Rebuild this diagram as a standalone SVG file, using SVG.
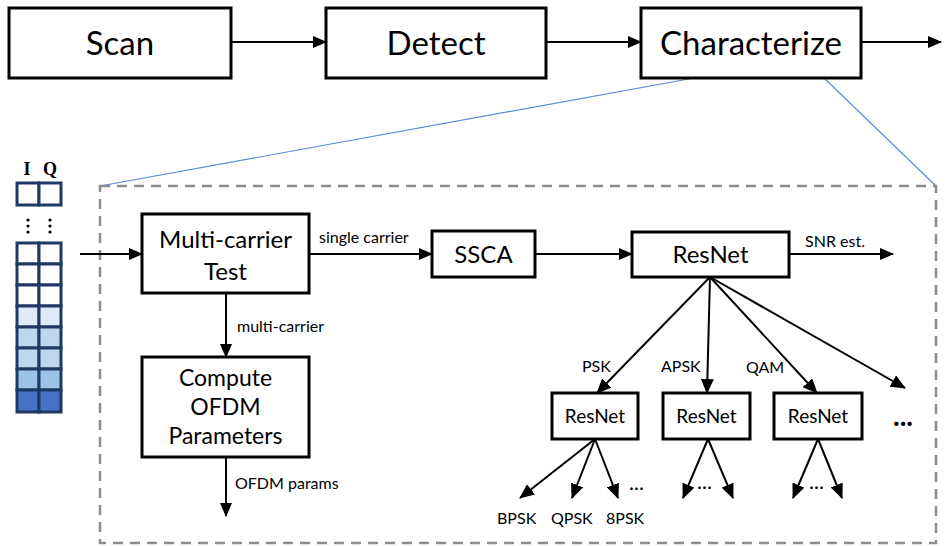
<svg xmlns="http://www.w3.org/2000/svg" width="947" height="546" viewBox="0 0 947 546">
  <defs>
    <style>
      .box { fill: #ffffff; stroke: #000000; stroke-width: 3; }
      .lbl { font-family: Lato, "Liberation Sans", sans-serif; fill: #000000; text-anchor: middle; }
      .big { font-size: 33px; }
      .mid { font-size: 24px; }
      .cmp { font-size: 23px; }
      .res { font-size: 24px; }
      .sml { font-size: 19px; }
      .note { font-family: Lato, "Liberation Sans", sans-serif; font-size: 16px; fill: #000000; }
      .edge { fill: none; stroke: #000000; stroke-width: 2; }
      .zoomline { fill: none; stroke: #5b8bd6; stroke-width: 1.2; }
      .frame { fill: none; stroke: #8c8c8c; stroke-width: 2.5; stroke-dasharray: 10 7; }
      .cell { stroke: #1f3864; stroke-width: 3; }
      .iq { font-family: "Liberation Serif", serif; font-weight: bold; font-size: 18px; fill: #000000; text-anchor: middle; }
      .dots { font-family: Lato, "Liberation Sans", sans-serif; fill: #000000; }
    </style>
    <marker id="head" viewBox="0 0 14 12" markerWidth="14" markerHeight="12" refX="13" refY="6" orient="auto" markerUnits="userSpaceOnUse">
      <path d="M0,0 L14,6 L0,12 z" fill="#000000"/>
    </marker>
    <marker id="head-lg" viewBox="0 0 15 13" markerWidth="15" markerHeight="13" refX="14" refY="6.5" orient="auto" markerUnits="userSpaceOnUse">
      <path d="M0,0 L15,6.5 L0,13 z" fill="#000000"/>
    </marker>
  </defs>

  <!-- magnification lines from Characterize to the detail frame -->
  <g id="zoom-lines">
    <line class="zoomline" x1="694" y1="78" x2="100" y2="186"/>
    <line class="zoomline" x1="824" y1="78" x2="936" y2="186"/>
  </g>

  <!-- detail frame -->
  <rect id="detail-frame" class="frame" x="100" y="186" width="836" height="357"/>

  <!-- pipeline stages -->
  <g id="scan">
    <rect class="box" x="9" y="8" width="222" height="70"/>
    <text class="lbl big" x="120" y="55">Scan</text>
  </g>
  <g id="detect">
    <rect class="box" x="326" y="8" width="220" height="70"/>
    <text class="lbl big" x="436" y="55">Detect</text>
  </g>
  <g id="characterize">
    <rect class="box" x="641" y="8" width="220" height="70"/>
    <text class="lbl big" x="751" y="55">Characterize</text>
  </g>

  <!-- IQ sample buffer -->
  <g id="iq-buffer">
    <text class="iq" x="27" y="175">I</text>
    <text class="iq" x="50" y="175">Q</text>
    <rect class="cell" fill="#ffffff" x="17" y="183" width="22" height="22"/>
    <rect class="cell" fill="#ffffff" x="39" y="183" width="22" height="22"/>
    <g fill="#000000">
      <circle cx="28" cy="220" r="1.6"/><circle cx="28" cy="226" r="1.6"/><circle cx="28" cy="232" r="1.6"/>
      <circle cx="50" cy="220" r="1.6"/><circle cx="50" cy="226" r="1.6"/><circle cx="50" cy="232" r="1.6"/>
    </g>
    <rect class="cell" fill="#ffffff" x="17" y="243" width="22" height="21"/>
    <rect class="cell" fill="#ffffff" x="39" y="243" width="22" height="21"/>
    <rect class="cell" fill="#ffffff" x="17" y="264" width="22" height="21"/>
    <rect class="cell" fill="#ffffff" x="39" y="264" width="22" height="21"/>
    <rect class="cell" fill="#ffffff" x="17" y="285" width="22" height="21"/>
    <rect class="cell" fill="#ffffff" x="39" y="285" width="22" height="21"/>
    <rect class="cell" fill="#deebf7" x="17" y="306" width="22" height="21"/>
    <rect class="cell" fill="#deebf7" x="39" y="306" width="22" height="21"/>
    <rect class="cell" fill="#bdd7ee" x="17" y="327" width="22" height="21"/>
    <rect class="cell" fill="#bdd7ee" x="39" y="327" width="22" height="21"/>
    <rect class="cell" fill="#bdd7ee" x="17" y="348" width="22" height="21"/>
    <rect class="cell" fill="#bdd7ee" x="39" y="348" width="22" height="21"/>
    <rect class="cell" fill="#9dc3e6" x="17" y="369" width="22" height="21"/>
    <rect class="cell" fill="#9dc3e6" x="39" y="369" width="22" height="21"/>
    <rect class="cell" fill="#4472c4" x="17" y="390" width="22" height="22"/>
    <rect class="cell" fill="#4472c4" x="39" y="390" width="22" height="22"/>
  </g>

  <!-- detail blocks -->
  <g id="multicarrier-test">
    <rect class="box" x="142" y="214" width="167" height="79"/>
    <text class="lbl mid" x="225.5" y="248">Multi-carrier</text>
    <text class="lbl mid" x="225.5" y="280">Test</text>
  </g>
  <g id="compute-ofdm">
    <rect class="box" x="142" y="357" width="167" height="100"/>
    <text class="lbl cmp" x="225.5" y="386">Compute</text>
    <text class="lbl cmp" x="225.5" y="415">OFDM</text>
    <text class="lbl cmp" x="225.5" y="444">Parameters</text>
  </g>
  <g id="ssca">
    <rect class="box" x="432" y="231" width="103" height="46"/>
    <text class="lbl res" x="483.5" y="263">SSCA</text>
  </g>
  <g id="resnet-main">
    <rect class="box" x="632" y="232" width="157" height="45"/>
    <text class="lbl res" x="710.5" y="263">ResNet</text>
  </g>
  <g id="resnet-psk">
    <rect class="box" x="552" y="393" width="86" height="46"/>
    <text class="lbl sml" x="595" y="423">ResNet</text>
  </g>
  <g id="resnet-apsk">
    <rect class="box" x="663" y="393" width="87" height="46"/>
    <text class="lbl sml" x="706.5" y="423">ResNet</text>
  </g>
  <g id="resnet-qam">
    <rect class="box" x="774" y="393" width="88" height="46"/>
    <text class="lbl sml" x="818" y="423">ResNet</text>
  </g>

  <!-- connectors -->
  <g id="connectors">
    <line class="edge" x1="231" y1="42" x2="326" y2="42" marker-end="url(#head)"/>
    <line class="edge" x1="546" y1="42" x2="641" y2="42" marker-end="url(#head)"/>
    <line class="edge" x1="861" y1="42" x2="941" y2="42" marker-end="url(#head)"/>

    <line class="edge" x1="80" y1="254" x2="142" y2="254" marker-end="url(#head)"/>
    <line class="edge" x1="309" y1="254" x2="432" y2="254" marker-end="url(#head)"/>
    <line class="edge" x1="535" y1="254" x2="632" y2="254" marker-end="url(#head)"/>
    <line class="edge" x1="789" y1="254" x2="893" y2="254" marker-end="url(#head)"/>

    <line class="edge" x1="226" y1="293" x2="226" y2="357" marker-end="url(#head)"/>
    <line class="edge" x1="226" y1="457" x2="226" y2="516" marker-end="url(#head)"/>

    <line class="edge" x1="710" y1="277" x2="597" y2="393" marker-end="url(#head-lg)"/>
    <line class="edge" x1="710" y1="277" x2="707" y2="393" marker-end="url(#head-lg)"/>
    <line class="edge" x1="710" y1="277" x2="817" y2="393" marker-end="url(#head-lg)"/>
    <line class="edge" x1="710" y1="277" x2="905" y2="388" marker-end="url(#head-lg)"/>

    <line class="edge" x1="595" y1="439" x2="520" y2="498" marker-end="url(#head-lg)"/>
    <line class="edge" x1="595" y1="439" x2="572" y2="498" marker-end="url(#head-lg)"/>
    <line class="edge" x1="595" y1="439" x2="618" y2="498" marker-end="url(#head-lg)"/>

    <line class="edge" x1="708" y1="439" x2="683" y2="498" marker-end="url(#head-lg)"/>
    <line class="edge" x1="708" y1="439" x2="733" y2="498" marker-end="url(#head-lg)"/>

    <line class="edge" x1="818" y1="439" x2="793" y2="498" marker-end="url(#head-lg)"/>
    <line class="edge" x1="818" y1="439" x2="842" y2="498" marker-end="url(#head-lg)"/>
  </g>

  <!-- connector labels -->
  <g id="labels">
    <text class="note" x="319" y="243">single carrier</text>
    <text class="note" x="237" y="332">multi-carrier</text>
    <text class="note" x="235" y="489">OFDM params</text>
    <text class="note" x="805" y="247">SNR est.</text>
    <text class="note" x="582" y="372">PSK</text>
    <text class="note" x="661" y="372">APSK</text>
    <text class="note" x="746" y="373">QAM</text>
    <text class="note" x="497" y="524">BPSK</text>
    <text class="note" x="551" y="524">QPSK</text>
    <text class="note" x="606" y="524">8PSK</text>
    <text class="dots" x="629" y="490" font-size="21">...</text>
    <text class="dots" x="697" y="489" font-size="21">...</text>
    <text class="dots" x="809" y="489" font-size="21">...</text>
    <text class="dots" x="893" y="426" font-size="28" font-weight="bold">...</text>
  </g>
</svg>
